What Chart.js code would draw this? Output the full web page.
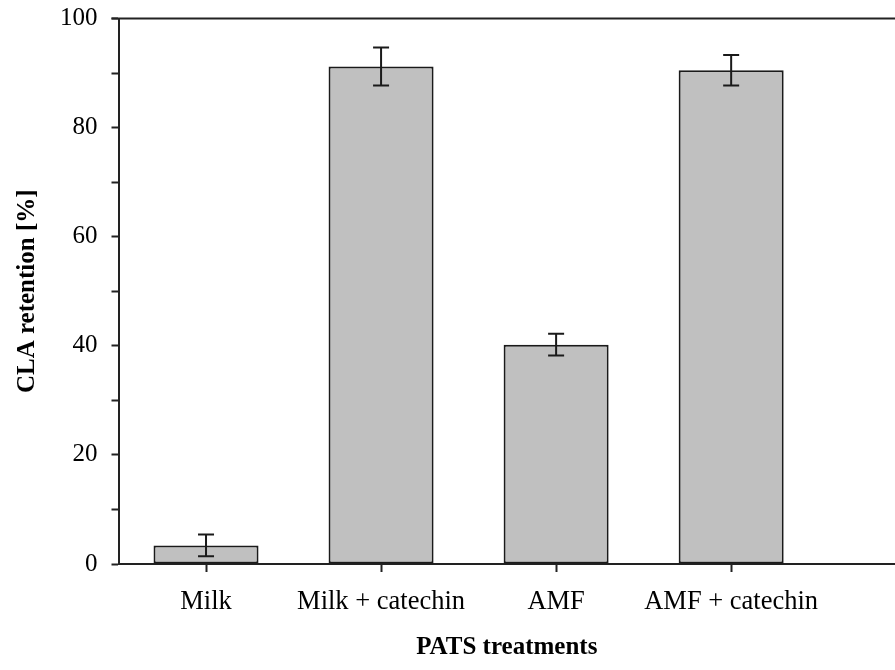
<!DOCTYPE html>
<html>
<head>
<meta charset="utf-8">
<script src="https://cdn.jsdelivr.net/npm/chart.js@4.4.1/dist/chart.umd.min.js"></script>
<style>
  html, body { margin: 0; padding: 0; background: #fff; }
  #wrap { width: 895px; height: 670px; position: relative; }
</style>
</head>
<body>
<div id="wrap"><canvas id="c"></canvas></div>
<script>
const categories = ['Milk', 'Milk + catechin', 'AMF', 'AMF + catechin'];
const retention = [3.4, 91.2, 40.2, 90.5];
const errors = [2.0, 3.5, 2.0, 2.8];
const yTicks = [0, 20, 40, 60, 80, 100];
const xTitle = 'PATS treatments';
const yTitle = 'CLA retention [%]';

const serif = "'Liberation Serif', 'Times New Roman', serif";

const errorBars = {
  id: 'errorBars',
  afterDatasetsDraw(chart) {
    const ctx = chart.ctx;
    const meta = chart.getDatasetMeta(0);
    const ys = chart.scales.y;
    ctx.save();
    ctx.strokeStyle = '#1a1a1a';
    ctx.lineWidth = 2;
    meta.data.forEach((bar, i) => {
      const x = bar.x;
      const top = ys.getPixelForValue(retention[i] + errors[i]);
      const bot = ys.getPixelForValue(retention[i] - errors[i]);
      ctx.beginPath();
      ctx.moveTo(x, top); ctx.lineTo(x, bot);
      ctx.moveTo(x - 8, top); ctx.lineTo(x + 8, top);
      ctx.moveTo(x - 8, bot); ctx.lineTo(x + 8, bot);
      ctx.stroke();
    });
    ctx.restore();
  }
};

const frame = {
  id: 'frame',
  afterDraw(chart) {
    const {ctx, chartArea} = chart;
    ctx.save();
    ctx.strokeStyle = '#222';
    ctx.lineWidth = 2;
    ctx.beginPath();
    ctx.moveTo(chartArea.left - 7, chartArea.top);
    ctx.lineTo(chart.width, chartArea.top);
    ctx.stroke();
    ctx.restore();
  }
};

new Chart(document.getElementById('c'), {
  type: 'bar',
  data: {
    datasets: [{
      data: retention.map((v, i) => ({ x: i + 1, y: v })),
      backgroundColor: '#c0c0c0',
      borderColor: '#1a1a1a',
      borderWidth: 2,
      borderSkipped: false,
      categoryPercentage: 0.6,
      barPercentage: 1.0
    }]
  },
  options: {
    responsive: true,
    maintainAspectRatio: false,
    animation: false,
    layout: { padding: { top: 18.5, left: 0, right: 0, bottom: 0 } },
    plugins: { legend: { display: false }, tooltip: { enabled: false } },
    scales: {
      x: {
        type: 'linear',
        offset: false,
        min: 0.5,
        max: 4.936,
        afterBuildTicks: (s) => { s.ticks = categories.map((c, i) => ({ value: i + 1 })); },
        afterFit: (s) => { s.height = 106; s.paddingLeft = 0; s.paddingRight = 0; },
        grid: { offset: false, drawOnChartArea: false, drawTicks: true, tickLength: 8, tickColor: '#222', tickWidth: 2 },
        border: { display: true, color: '#222', width: 2 },
        ticks: {
          padding: 17,
          color: '#000',
          font: { family: serif, size: 26.5, lineHeight: 1 },
          maxRotation: 0,
          autoSkip: false,
          callback: (v) => categories[v - 1] ?? ''
        },
        title: {
          display: true,
          text: xTitle,
          color: '#000',
          font: { family: serif, size: 25, weight: 'bold', lineHeight: 1 },
          padding: { top: 0, bottom: 10 }
        }
      },
      y: {
        min: 0,
        max: 100,
        afterFit: (s) => { s.width = 118.5; s.paddingTop = 0; s.paddingBottom = 0; },
        grid: { drawOnChartArea: false, drawTicks: true, tickLength: 7, tickColor: '#222', tickWidth: 2 },
        border: { display: true, color: '#222', width: 2 },
        ticks: {
          stepSize: 10,
          padding: 14,
          color: '#000',
          font: { family: serif, size: 25, lineHeight: 1 },
          callback: (v) => yTicks.includes(v) ? String(v) : ''
        },
        title: {
          display: true,
          text: yTitle,
          color: '#000',
          font: { family: serif, size: 25, weight: 'bold', lineHeight: 1 },
          padding: { top: 15, bottom: 0 }
        }
      }
    }
  },
  plugins: [errorBars, frame]
});
</script>
</body>
</html>
